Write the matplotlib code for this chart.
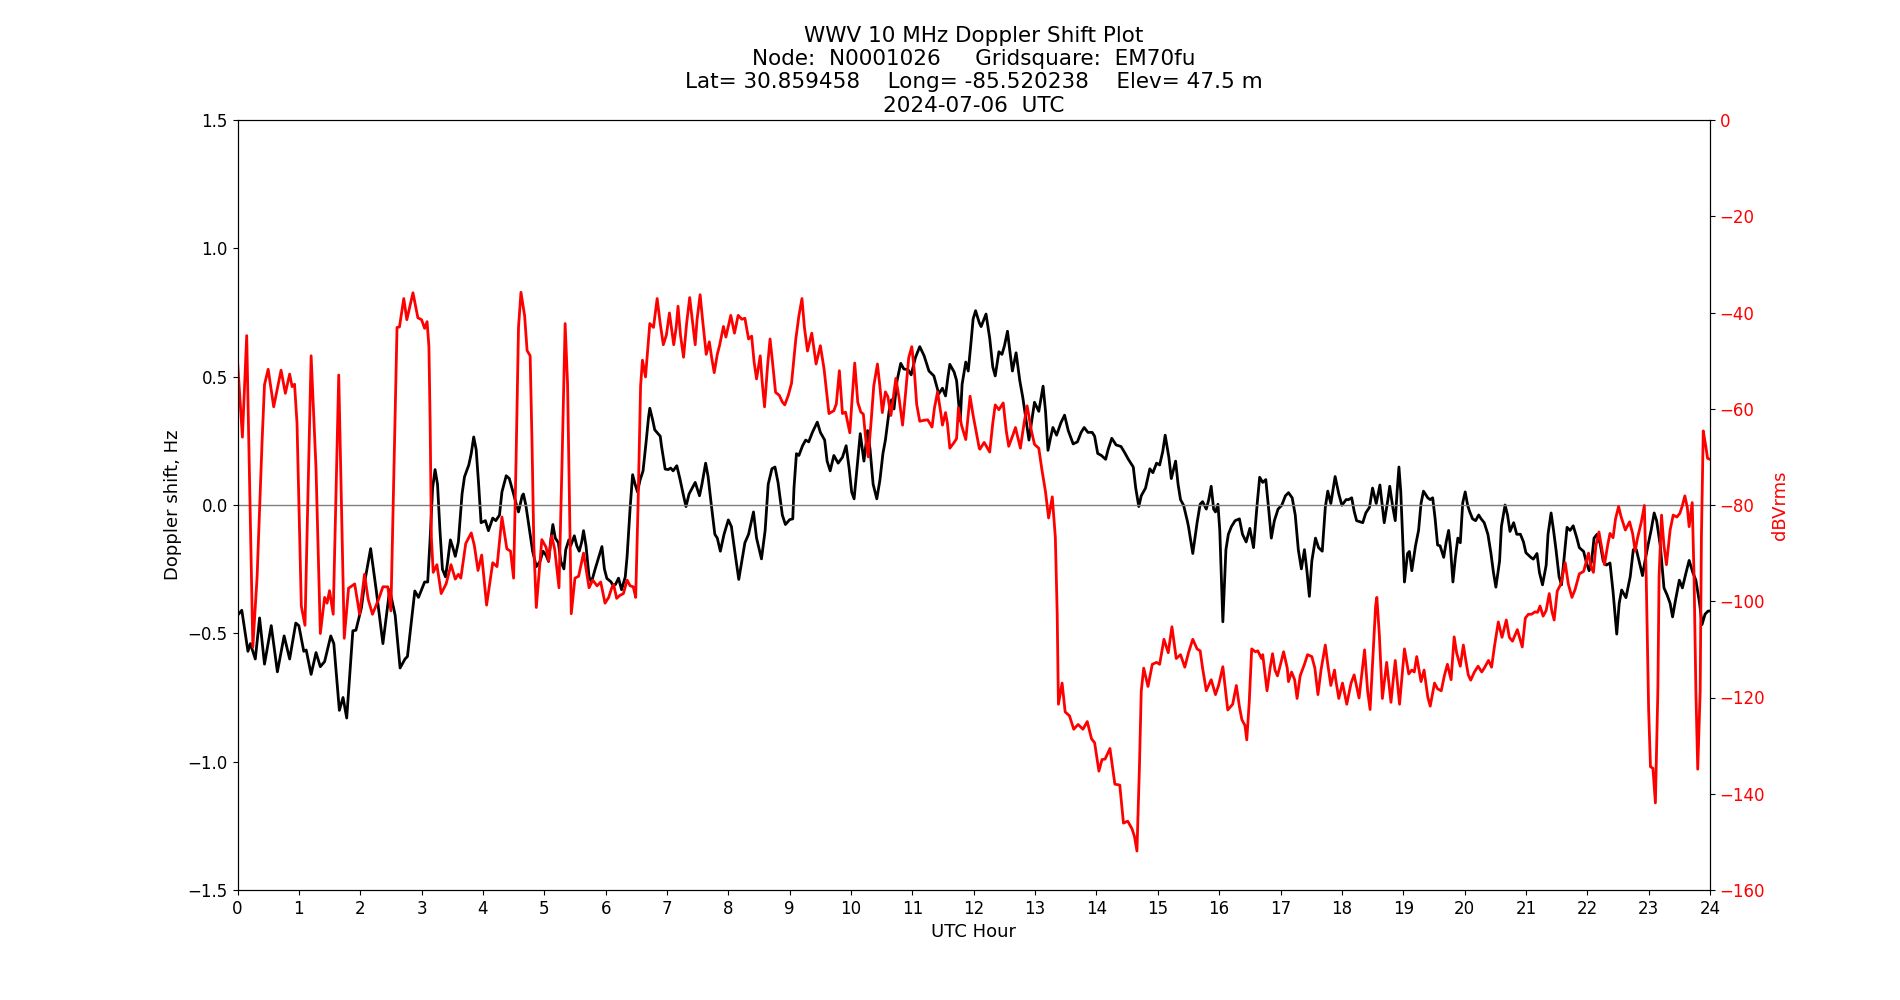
import matplotlib
matplotlib.use('Agg')
import matplotlib.pyplot as plt

plt.rcParams['font.size'] = 12

TITLE = ('WWV 10 MHz Doppler Shift Plot\n'
         'Node:  N0001026     Gridsquare:  EM70fu\n'
         'Lat= 30.859458    Long= -85.520238    Elev= 47.5 m\n'
         '2024-07-06  UTC')

# ── Doppler shift (Hz) ───────────────────────────────────────────────────
shift_hours = [
    0.00, 0.07, 0.17, 0.21, 0.29, 0.36, 0.44, 0.55, 0.65, 0.76, 0.85, 0.95,
    1.00, 1.08, 1.12, 1.20, 1.28, 1.35, 1.42, 1.52, 1.57, 1.66, 1.72, 1.78,
    1.88, 1.93, 2.02, 2.08, 2.17, 2.26, 2.37, 2.48, 2.57, 2.65, 2.73, 2.77,
    2.89, 2.95, 3.05,
    3.10, 3.14, 3.18, 3.22, 3.26, 3.30, 3.34, 3.39, 3.42, 3.47, 3.51, 3.55,
    3.60, 3.66, 3.70, 3.77, 3.81, 3.85, 3.89, 3.93, 3.97, 4.04, 4.09, 4.16,
    4.21, 4.27, 4.31, 4.38, 4.43, 4.50, 4.54, 4.58, 4.64, 4.66, 4.70, 4.76,
    4.81, 4.87, 4.93, 4.98, 5.03, 5.07, 5.11, 5.14, 5.18, 5.23, 5.27, 5.32,
    5.35, 5.40, 5.43, 5.49, 5.53, 5.57, 5.61, 5.64, 5.68, 5.73, 5.77, 5.83,
    5.89, 5.94, 5.98, 6.02, 6.09,
    6.11, 6.16, 6.21, 6.26, 6.32, 6.35, 6.40, 6.44, 6.48, 6.52, 6.56, 6.61,
    6.66, 6.70, 6.72, 6.77, 6.80, 6.89, 6.91, 6.97, 7.02, 7.06, 7.10, 7.16,
    7.21, 7.27, 7.31, 7.36, 7.46, 7.53, 7.57, 7.63, 7.67, 7.72, 7.78, 7.82,
    7.87, 7.93, 8.00, 8.05, 8.11, 8.17, 8.22, 8.27, 8.33, 8.41, 8.46, 8.54,
    8.60, 8.65, 8.71, 8.76, 8.81, 8.88, 8.93, 9.00, 9.05,
    9.07, 9.11, 9.15, 9.21, 9.26, 9.31, 9.37, 9.45, 9.50, 9.57, 9.61, 9.66,
    9.72, 9.79, 9.86, 9.92, 9.97, 10.01, 10.05, 10.09, 10.15, 10.21, 10.27,
    10.31, 10.36, 10.42, 10.47, 10.52, 10.56, 10.62, 10.66, 10.70, 10.75,
    10.81, 10.86, 10.93, 10.98, 11.05, 11.12, 11.19, 11.27, 11.35, 11.43,
    11.49, 11.54, 11.58, 11.61, 11.68, 11.72, 11.78, 11.81, 11.87, 11.91,
    11.95, 11.99, 12.03, 12.09,
    12.12, 12.20, 12.26, 12.31, 12.35, 12.41, 12.46, 12.50, 12.55, 12.59,
    12.63, 12.69, 12.75, 12.80, 12.86, 12.90, 12.94, 12.99, 13.06, 13.10,
    13.13, 13.17, 13.21, 13.25, 13.29, 13.35, 13.42, 13.48, 13.54, 13.62,
    13.69, 13.75, 13.80, 13.86, 13.93, 13.97, 14.02, 14.08, 14.15, 14.19,
    14.25, 14.32, 14.40, 14.46, 14.52, 14.60, 14.64, 14.69, 14.73, 14.80,
    14.87, 14.92, 14.98, 15.03,
    15.08, 15.12, 15.18, 15.22, 15.29, 15.33, 15.37, 15.42, 15.48, 15.50,
    15.57, 15.64, 15.69, 15.73, 15.79, 15.83, 15.87, 15.91, 15.94, 15.98,
    16.01, 16.06, 16.11, 16.15, 16.20, 16.26, 16.33, 16.38, 16.44, 16.50,
    16.56, 16.62, 16.66, 16.71, 16.76, 16.81, 16.85, 16.90, 16.96, 17.02,
    17.08, 17.13, 17.19, 17.24, 17.29, 17.34, 17.39, 17.43, 17.47, 17.51,
    17.57, 17.62, 17.68, 17.73, 17.77, 17.82, 17.89, 17.95, 18.00, 18.07,
    18.11, 18.16, 18.20, 18.24, 18.30, 18.34, 18.39, 18.45, 18.50, 18.56,
    18.62, 18.69, 18.75, 18.78, 18.83, 18.87, 18.90, 18.93, 18.96, 19.02,
    19.07, 19.10, 19.14, 19.20, 19.25, 19.29, 19.33, 19.40, 19.44, 19.48,
    19.52, 19.56, 19.60, 19.66, 19.70, 19.74, 19.77, 19.81, 19.85, 19.89,
    19.93, 19.97, 20.01, 20.05, 20.08, 20.13, 20.18, 20.23, 20.27, 20.32,
    20.38, 20.43, 20.47, 20.51, 20.57, 20.60, 20.66, 20.70, 20.74, 20.80,
    20.85, 20.91, 20.96, 21.00, 21.08,
    21.12, 21.18, 21.22, 21.27, 21.33, 21.36, 21.41, 21.45, 21.49, 21.54,
    21.58, 21.63, 21.67, 21.72, 21.77, 21.83, 21.87, 21.94, 21.98, 22.03,
    22.07, 22.11, 22.16, 22.21, 22.26, 22.31, 22.37, 22.42, 22.48, 22.52,
    22.56, 22.63, 22.70, 22.75, 22.80, 22.86, 22.90, 22.94, 22.99, 23.04,
    23.09, 23.13, 23.19, 23.25, 23.30, 23.35, 23.39, 23.44, 23.50, 23.55,
    23.61, 23.66, 23.72, 23.77, 23.83, 23.87, 23.92, 23.97, 24.00,
]
shift_hz = [
    -0.43, -0.41, -0.57, -0.54, -0.60, -0.44, -0.62, -0.47, -0.65, -0.51, -0.60, -0.46,
    -0.47, -0.57, -0.565, -0.66, -0.575, -0.63, -0.61, -0.51, -0.54, -0.80, -0.75, -0.83,
    -0.49, -0.488, -0.40, -0.29, -0.17, -0.33, -0.54, -0.33, -0.43, -0.635, -0.60, -0.59,
    -0.335, -0.36, -0.30,
    -0.30, -0.13, 0.066, 0.138, 0.081, -0.10, -0.25, -0.28, -0.23, -0.136, -0.166, -0.20,
    -0.144, 0.043, 0.11, 0.156, 0.201, 0.265, 0.216, 0.081, -0.069, -0.061, -0.10, -0.051,
    -0.061, -0.039, 0.051, 0.114, 0.103, 0.043, 0.006, -0.027, 0.036, 0.043, -0.001, -0.10,
    -0.18, -0.24, -0.22, -0.18, -0.196, -0.22, -0.129, -0.076, -0.129, -0.147, -0.22, -0.249,
    -0.174, -0.136, -0.159, -0.12, -0.159, -0.18, -0.144, -0.10, -0.159, -0.28, -0.30, -0.249,
    -0.201, -0.162, -0.249, -0.286, -0.30,
    -0.31, -0.31, -0.285, -0.33, -0.28, -0.20, -0.009, 0.118, 0.081, 0.051, 0.096, 0.133,
    0.246, 0.343, 0.377, 0.328, 0.293, 0.268, 0.231, 0.14, 0.138, 0.144, 0.133, 0.153,
    0.103, 0.036, -0.006, 0.043, 0.088, 0.036, 0.081, 0.163, 0.111, 0.006, -0.114, -0.129,
    -0.18, -0.114, -0.058, -0.084, -0.189, -0.29, -0.219, -0.147, -0.114, -0.027, -0.129, -0.21,
    -0.099, 0.081, 0.141, 0.148, 0.088, -0.039, -0.076, -0.057, -0.054,
    0.066, 0.20, 0.193, 0.231, 0.253, 0.246, 0.283, 0.323, 0.283, 0.253, 0.171, 0.133,
    0.193, 0.163, 0.186, 0.231, 0.141, 0.051, 0.024, 0.126, 0.278, 0.171, 0.29,
    0.216, 0.081, 0.024, 0.096, 0.201, 0.253, 0.365, 0.41, 0.374, 0.485,
    0.552, 0.530, 0.527, 0.507, 0.575, 0.617, 0.582, 0.522, 0.503, 0.433,
    0.455, 0.425, 0.500, 0.548, 0.518, 0.485, 0.328, 0.470, 0.557, 0.522,
    0.620, 0.725, 0.757, 0.71,
    0.695, 0.744, 0.650, 0.538, 0.503, 0.597, 0.587, 0.620, 0.677, 0.597,
    0.522, 0.593, 0.485, 0.418, 0.320, 0.253, 0.320, 0.40, 0.365, 0.422,
    0.463, 0.365, 0.213, 0.260, 0.302, 0.272, 0.320, 0.35, 0.290, 0.238,
    0.246, 0.283, 0.302, 0.283, 0.283, 0.268, 0.201, 0.193, 0.178, 0.216,
    0.26, 0.234, 0.228, 0.204, 0.178, 0.148, 0.066, -0.006, 0.036, 0.066,
    0.141, 0.126, 0.163, 0.156,
    0.208, 0.272, 0.186, 0.103, 0.171, 0.081, 0.021, -0.001, -0.061, -0.084,
    -0.189, -0.069, 0.003, 0.013, -0.016, 0.021, 0.073, -0.016, -0.027, 0.003,
    -0.099, -0.455, -0.174, -0.114, -0.084, -0.061, -0.054, -0.114, -0.144, -0.091,
    -0.166, 0.006, 0.108, 0.088, 0.099, -0.024, -0.129, -0.061, -0.016, -0.001,
    0.036, 0.048, 0.028, -0.039, -0.174, -0.249, -0.174, -0.256, -0.356, -0.219,
    -0.129, -0.166, -0.18, -0.009, 0.054, 0.006, 0.111, 0.043, -0.001, 0.021,
    0.021, 0.028, -0.024, -0.061, -0.066, -0.069, -0.031, -0.009, 0.066, 0.006,
    0.078, -0.069, 0.021, 0.073, -0.009, -0.061, 0.051, 0.148, 0.051, -0.30,
    -0.189, -0.181, -0.256, -0.159, -0.099, 0.006, 0.054, 0.028, 0.021, 0.028,
    -0.054, -0.156, -0.159, -0.204, -0.144, -0.099, -0.166, -0.30, -0.204, -0.129,
    -0.147, 0.009, 0.051, -0.001, -0.024, -0.054, -0.061, -0.039, -0.054, -0.069,
    -0.114, -0.189, -0.262, -0.32, -0.219, -0.084, 0.0, -0.039, -0.103, -0.069,
    -0.114, -0.114, -0.144, -0.186, -0.204,
    -0.211, -0.189, -0.263, -0.311, -0.234, -0.114, -0.031, -0.099, -0.174, -0.279,
    -0.311, -0.189, -0.087, -0.099, -0.081, -0.129, -0.166, -0.181, -0.219, -0.256,
    -0.219, -0.129, -0.114, -0.151, -0.219, -0.234, -0.226, -0.338, -0.503, -0.383,
    -0.331, -0.361, -0.279, -0.174, -0.174, -0.234, -0.275, -0.219, -0.156, -0.099,
    -0.031, -0.061, -0.159, -0.323, -0.350, -0.383, -0.436, -0.368, -0.293, -0.323,
    -0.263, -0.216, -0.263, -0.293, -0.383, -0.466, -0.425, -0.413, -0.413,
]

# ── Signal level (dBVrms) ────────────────────────────────────────────────
level_hours = [
    0.00, 0.08, 0.15, 0.25, 0.32, 0.40, 0.44, 0.50, 0.59, 0.71, 0.78, 0.85,
    0.89, 0.93, 0.97, 1.04, 1.10, 1.20, 1.28, 1.35, 1.42, 1.46, 1.50, 1.56,
    1.65, 1.74, 1.81, 1.91, 1.99, 2.07, 2.13, 2.20, 2.30, 2.37, 2.45, 2.50,
    2.60, 2.64, 2.71, 2.76, 2.86, 2.94, 3.00, 3.05,
    3.09, 3.12, 3.14, 3.16, 3.19, 3.25, 3.32, 3.40, 3.48, 3.55, 3.60, 3.64,
    3.72, 3.81, 3.86, 3.92, 3.98, 4.06, 4.16, 4.23, 4.31, 4.39, 4.45, 4.50,
    4.54, 4.58, 4.62, 4.68, 4.72, 4.77, 4.80, 4.83, 4.87, 4.96, 5.03, 5.07,
    5.12, 5.17, 5.24, 5.29, 5.34, 5.38, 5.41, 5.44, 5.50, 5.56, 5.64, 5.73,
    5.79, 5.86, 5.92, 5.99, 6.05,
    6.10, 6.13, 6.18, 6.23, 6.29, 6.35, 6.40, 6.45, 6.49, 6.53, 6.57, 6.60,
    6.65, 6.69, 6.72, 6.78, 6.84, 6.89, 6.94, 6.99, 7.04, 7.08, 7.11, 7.15,
    7.18, 7.22, 7.27, 7.32, 7.37, 7.42, 7.46, 7.49, 7.54, 7.58, 7.64, 7.69,
    7.73, 7.77, 7.82, 7.86, 7.92, 7.96, 8.04, 8.10, 8.16, 8.22, 8.27, 8.33,
    8.38, 8.42, 8.46, 8.52, 8.55, 8.59, 8.64, 8.68, 8.72, 8.77, 8.83, 8.88,
    8.92, 8.98, 9.03,
    9.10, 9.15, 9.20, 9.24, 9.29, 9.36, 9.43, 9.50, 9.56, 9.64, 9.72, 9.76,
    9.81, 9.86, 9.91, 9.98, 10.02, 10.06, 10.11, 10.16, 10.20, 10.24, 10.28,
    10.33, 10.37, 10.43, 10.47, 10.51, 10.56, 10.60, 10.65, 10.70, 10.73,
    10.78, 10.84, 10.89, 10.94, 10.99, 11.03, 11.07, 11.12, 11.19, 11.25,
    11.32, 11.36, 11.41, 11.46, 11.49, 11.54, 11.57, 11.61, 11.68, 11.72,
    11.75, 11.80, 11.87, 11.94, 11.99, 12.09,
    12.10, 12.17, 12.26, 12.31, 12.35, 12.41, 12.48, 12.53, 12.57, 12.64,
    12.68, 12.72, 12.76, 12.82, 12.87, 12.94, 12.99, 13.06, 13.11, 13.17,
    13.22, 13.28, 13.33, 13.36, 13.38, 13.44, 13.49, 13.56, 13.63, 13.70,
    13.78, 13.85, 13.92, 13.97, 14.04, 14.09, 14.14, 14.22, 14.30, 14.38,
    14.44, 14.51, 14.58, 14.62, 14.66, 14.70, 14.73, 14.77, 14.84, 14.91,
    14.98, 15.03,
    15.10, 15.17, 15.23, 15.30, 15.37, 15.44, 15.50, 15.57, 15.64, 15.69,
    15.73, 15.79, 15.87, 15.94, 15.99, 16.06, 16.10, 16.14, 16.22, 16.28,
    16.33, 16.37, 16.42, 16.45, 16.49, 16.53, 16.59, 16.63, 16.69, 16.71,
    16.78, 16.83, 16.87, 16.91, 16.95, 17.00, 17.05, 17.11, 17.13, 17.18,
    17.23, 17.27, 17.32, 17.39, 17.44, 17.51, 17.56, 17.61, 17.66, 17.73,
    17.77, 17.82, 17.88, 17.90, 17.95, 18.01,
    18.08, 18.15, 18.20, 18.28, 18.37, 18.42, 18.46, 18.51, 18.55, 18.57,
    18.61, 18.66, 18.73, 18.80, 18.87, 18.94, 19.02, 19.09, 19.14, 19.18,
    19.22, 19.29, 19.34, 19.40, 19.44, 19.51, 19.56, 19.62, 19.67, 19.72,
    19.78, 19.83, 19.87, 19.93, 19.98, 20.02, 20.06, 20.10, 20.16, 20.22,
    20.28, 20.32, 20.39, 20.44, 20.49, 20.55, 20.61, 20.68, 20.73, 20.78,
    20.86, 20.94, 20.99, 21.04,
    21.09, 21.15, 21.19, 21.23, 21.28, 21.33, 21.38, 21.42, 21.46, 21.51,
    21.57, 21.64, 21.69, 21.75, 21.80, 21.87, 21.94, 21.97, 22.02, 22.06,
    22.10, 22.14, 22.19, 22.23, 22.28, 22.33, 22.37, 22.42, 22.46, 22.51,
    22.55, 22.62, 22.69, 22.74, 22.78, 22.82, 22.88, 22.93, 22.96, 23.00,
    23.03, 23.07, 23.11, 23.15, 23.17, 23.21, 23.25, 23.29, 23.35, 23.40,
    23.46, 23.51, 23.55, 23.59, 23.63, 23.66, 23.71, 23.74, 23.77, 23.80,
    23.84, 23.86, 23.89, 23.93, 23.96, 24.00,
]
level_db = [
    -50.0, -65.9, -44.8, -109.5, -94.8, -67.0, -55.0, -51.8, -59.6, -52.0, -56.8, -52.8,
    -55.4, -54.9, -63.0, -101.0, -105.0, -49.0, -72.5, -106.7, -99.2, -100.4, -97.8, -102.7,
    -53.0, -107.7, -97.3, -96.4, -102.7, -94.4, -99.6, -102.7, -99.6, -97.0, -97.0, -102.0,
    -43.1, -43.0, -37.1, -41.5, -35.9, -41.1, -41.5, -43.3,
    -41.9, -47.1, -63.0, -86.8, -94.0, -92.4, -98.4, -96.4, -92.4, -95.4, -94.4, -95.2,
    -88.0, -85.8, -88.4, -93.6, -90.4, -100.8, -92.0, -92.8, -82.5, -89.1, -89.6, -95.2,
    -70.9, -43.1, -35.8, -40.7, -47.9, -49.0, -66.9, -88.4, -101.3, -87.2, -88.8, -91.6,
    -86.4, -89.2, -97.2, -70.9, -42.3, -55.0, -78.9, -102.6, -95.2, -94.8, -90.0, -97.2,
    -95.6, -96.8, -96.0, -100.4, -99.2,
    -97.2, -96.5, -99.4, -98.8, -98.4, -95.6, -96.8, -97.0, -99.2, -79.2, -55.3, -49.9,
    -53.4, -47.1, -42.3, -43.1, -37.1, -42.3, -46.7, -44.7, -40.1, -43.9, -46.7, -43.1,
    -38.7, -44.7, -49.3, -42.3, -36.9, -42.3, -46.7, -41.5, -36.3, -41.5, -48.7, -46.1,
    -49.5, -52.5, -48.7, -46.7, -42.9, -45.1, -40.6, -44.3, -40.6, -41.4, -41.2, -45.5,
    -44.9, -50.3, -53.8, -49.0, -54.2, -59.6, -51.0, -45.5, -50.3, -56.6, -57.2, -58.6,
    -59.2, -57.1, -54.7,
    -45.5, -40.7, -37.1, -43.1, -48.0, -44.3, -50.7, -46.9, -51.7, -61.0, -60.4, -59.0,
    -52.1, -61.0, -60.7, -65.0, -57.5, -50.5, -58.7, -60.7, -61.1, -66.3, -70.0,
    -62.2, -55.3, -50.7, -55.3, -60.8, -56.5, -57.5, -61.4, -56.6, -53.7,
    -57.5, -63.4, -56.6, -49.4, -47.1, -51.9, -59.1, -62.6, -62.4, -62.3,
    -63.8, -59.8, -56.5, -60.6, -63.4, -60.8, -63.0, -68.2, -67.0, -66.2,
    -59.8, -63.4, -66.4, -57.4, -61.4, -68.2,
    -68.4, -67.0, -69.0, -63.0, -59.2, -60.2, -58.8, -64.6, -67.8, -65.4,
    -63.9, -66.1, -68.2, -63.0, -59.4, -64.6, -67.4, -68.2, -72.6, -77.3,
    -82.7, -78.3, -86.8, -102.6, -121.4, -117.0, -123.0, -123.8, -126.6, -125.6,
    -126.6, -125.0, -128.6, -129.4, -135.3, -132.9, -132.8, -130.6, -138.0, -138.2,
    -146.1, -145.7, -147.3, -148.9, -151.9, -134.6, -118.7, -113.9, -117.7, -113.1,
    -112.7, -113.1,
    -107.9, -110.7, -105.3, -111.9, -111.1, -113.7, -110.7, -107.9, -109.9, -110.3,
    -113.9, -118.6, -116.3, -119.4, -117.5, -113.6, -118.2, -122.6, -121.4, -117.5,
    -121.9, -124.6, -125.8, -128.8, -121.0, -109.9, -110.5, -110.3, -111.9, -111.1,
    -118.6, -113.9, -110.9, -114.3, -115.5, -113.1, -110.5, -113.9, -116.7, -114.7,
    -116.3, -120.2, -115.5, -113.1, -111.1, -111.5, -113.9, -119.4, -114.3, -109.1,
    -113.1, -117.5, -114.3, -116.3, -120.2, -117.0,
    -121.4, -117.0, -115.3, -120.1, -110.1, -118.7, -122.5, -110.6, -101.0, -99.2,
    -106.8, -120.2, -112.7, -121.0, -112.3, -121.4, -109.9, -115.1, -114.3, -114.7,
    -111.5, -116.7, -114.3, -119.9, -121.8, -117.0, -118.2, -118.6, -115.5, -113.1,
    -116.3, -107.4, -110.7, -113.5, -109.1, -112.3, -115.3, -116.4, -114.7, -113.5,
    -114.7, -113.9, -112.3, -113.7, -109.1, -104.3, -107.5, -103.9, -107.5, -108.3,
    -105.9, -109.5, -103.5, -102.7,
    -102.7, -102.2, -102.3, -101.0, -103.1, -101.9, -98.4, -101.9, -103.9, -97.9,
    -96.4, -92.0, -96.4, -99.2, -97.6, -94.3, -93.8, -92.4, -90.0, -92.8,
    -94.0, -88.5, -85.6, -88.5, -92.4, -88.5, -85.9, -86.8, -82.9, -80.3,
    -82.4, -85.2, -83.5, -86.0, -89.6, -86.8, -83.6, -80.1, -94.8, -122.6,
    -134.4, -134.7, -141.9, -118.7, -94.8, -82.1, -88.5, -92.4, -85.2, -82.1,
    -82.5, -81.7, -80.1, -78.1, -80.5, -84.5, -79.5, -94.8, -118.7, -134.9,
    -118.7, -86.8, -64.6, -67.7, -70.3, -70.5,
]

hour_ticks = list(range(0, 25))

fig, ax1 = plt.subplots(figsize=(19, 10))

ax1.plot(shift_hours, shift_hz, color='black', lw=2)
ax1.axhline(0, color='gray', lw=1)
ax1.set_xlim(0, 24)
ax1.set_ylim(-1.5, 1.5)
ax1.set_xticks(hour_ticks)
ax1.set_xlabel('UTC Hour', fontsize=13)
ax1.set_ylabel('Doppler shift, Hz', fontsize=13)

ax2 = ax1.twinx()
ax2.plot(level_hours, level_db, color='red', lw=2)
ax2.set_ylim(-160, 0)
ax2.set_ylabel('dBVrms', color='red', fontsize=13)
ax2.tick_params(axis='y', labelcolor='red')

ax1.set_title(TITLE, fontsize=15.5)

fig.savefig('out.png', dpi=100)
